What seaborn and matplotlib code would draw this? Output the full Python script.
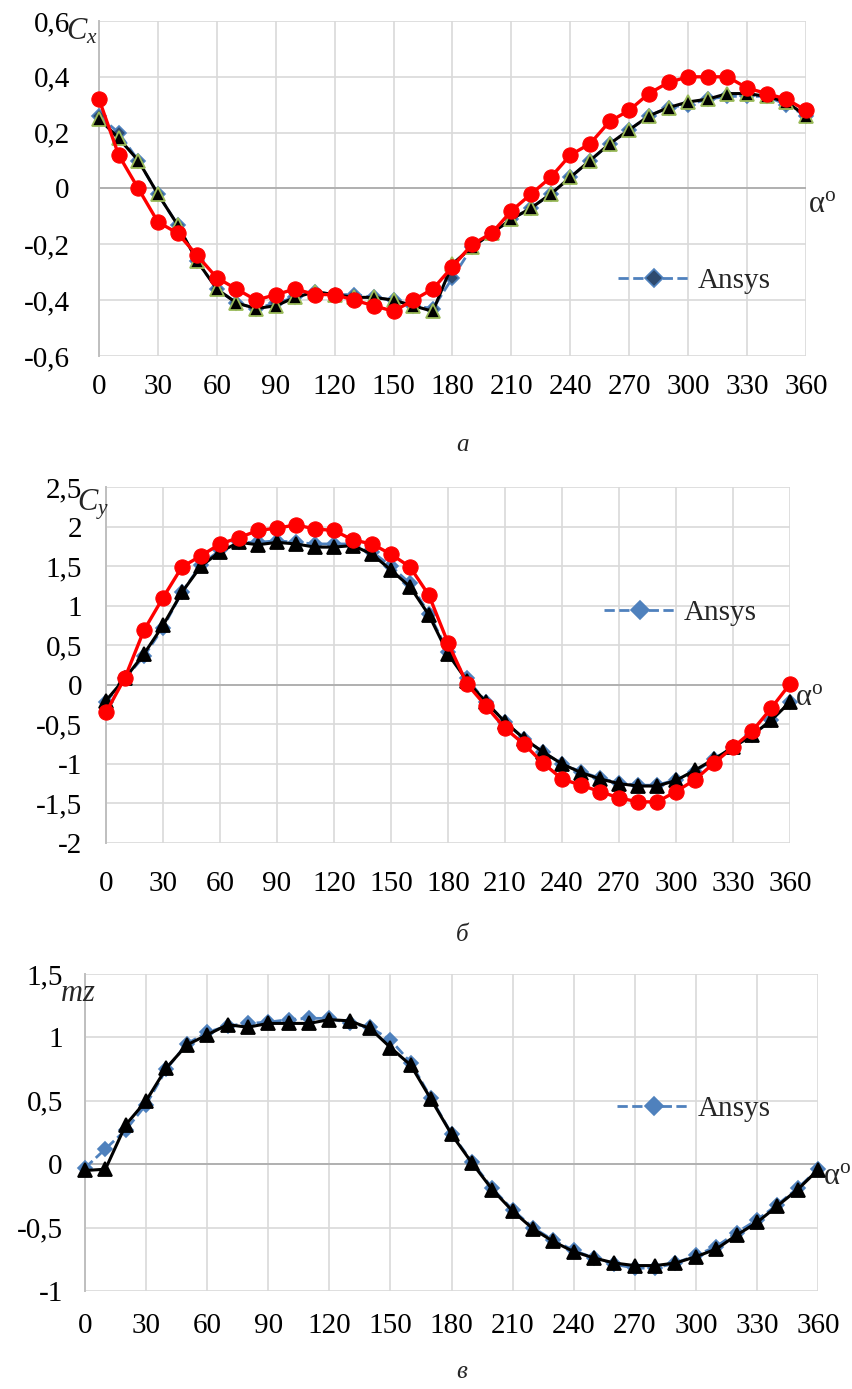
import numpy as np
import matplotlib
matplotlib.use('Agg')
import matplotlib.pyplot as plt
import seaborn as sns
from matplotlib.ticker import FuncFormatter, MultipleLocator
from matplotlib.lines import Line2D

sns.set_style('white')
plt.rcParams['font.family'] = ['Liberation Serif', 'DejaVu Serif']
plt.rcParams['mathtext.fontset'] = 'custom'
plt.rcParams['mathtext.rm'] = 'Liberation Serif'
plt.rcParams['mathtext.it'] = 'Liberation Serif:italic'

# angle of attack, degrees
alpha = [0, 10, 20, 30, 40, 50, 60, 70, 80, 90, 100, 110, 120, 130, 140, 150, 160, 170, 180,
         190, 200, 210, 220, 230, 240, 250, 260, 270, 280, 290, 300, 310, 320, 330, 340, 350, 360]

# Cx
cx_ansys = [0.26, 0.20, 0.10, -0.02, -0.13, -0.26, -0.36, -0.41, -0.43, -0.41, -0.39, -0.37, -0.38,
            -0.38, -0.39, -0.40, -0.42, -0.43, -0.32, -0.21, -0.16, -0.11, -0.07, -0.02, 0.04, 0.10,
            0.16, 0.21, 0.26, 0.29, 0.30, 0.32, 0.33, 0.33, 0.33, 0.30, 0.26]
cx_black = [0.25, 0.18, 0.10, -0.02, -0.13, -0.26, -0.36, -0.41, -0.43, -0.42, -0.39, -0.37, -0.38,
            -0.39, -0.39, -0.40, -0.42, -0.44, -0.27, -0.21, -0.16, -0.11, -0.07, -0.02, 0.04, 0.10,
            0.16, 0.21, 0.26, 0.29, 0.31, 0.32, 0.34, 0.34, 0.33, 0.31, 0.26]
cx_red = [0.32, 0.12, 0.00, -0.12, -0.16, -0.24, -0.32, -0.36, -0.40, -0.38, -0.36, -0.38, -0.38,
          -0.40, -0.42, -0.44, -0.40, -0.36, -0.28, -0.20, -0.16, -0.08, -0.02, 0.04, 0.12, 0.16,
          0.24, 0.28, 0.34, 0.38, 0.40, 0.40, 0.40, 0.36, 0.34, 0.32, 0.28]

# Cy
cy_ansys = [-0.22, 0.08, 0.36, 0.72, 1.17, 1.52, 1.70, 1.80, 1.80, 1.82, 1.80, 1.78, 1.78, 1.78,
            1.68, 1.50, 1.28, 0.90, 0.42, 0.08, -0.22, -0.47, -0.68, -0.85, -1.00, -1.10, -1.18,
            -1.24, -1.27, -1.27, -1.20, -1.10, -0.94, -0.79, -0.64, -0.45, -0.22]
cy_black = [-0.20, 0.08, 0.39, 0.75, 1.17, 1.50, 1.68, 1.80, 1.77, 1.80, 1.78, 1.74, 1.74, 1.76,
            1.65, 1.45, 1.24, 0.88, 0.39, 0.05, -0.22, -0.47, -0.68, -0.85, -1.00, -1.11, -1.19,
            -1.25, -1.28, -1.28, -1.21, -1.08, -0.94, -0.79, -0.64, -0.45, -0.22]
cy_red = [-0.35, 0.09, 0.69, 1.10, 1.49, 1.63, 1.78, 1.86, 1.95, 1.98, 2.02, 1.97, 1.95, 1.83,
          1.78, 1.65, 1.49, 1.13, 0.53, 0.01, -0.27, -0.55, -0.75, -0.99, -1.19, -1.27, -1.35,
          -1.43, -1.48, -1.48, -1.35, -1.20, -0.99, -0.79, -0.59, -0.30, 0.01]

# mz
mz_ansys = [-0.03, 0.12, 0.27, 0.47, 0.75, 0.95, 1.04, 1.09, 1.11, 1.12, 1.14, 1.15, 1.15, 1.11,
            1.08, 0.98, 0.80, 0.52, 0.24, 0.02, -0.19, -0.36, -0.50, -0.60, -0.68, -0.74, -0.79,
            -0.82, -0.82, -0.78, -0.72, -0.65, -0.54, -0.44, -0.32, -0.19, -0.04]
mz_black = [-0.05, -0.04, 0.31, 0.50, 0.76, 0.94, 1.02, 1.10, 1.08, 1.11, 1.11, 1.11, 1.14, 1.13,
            1.07, 0.92, 0.78, 0.51, 0.235, 0.01, -0.20, -0.37, -0.51, -0.61, -0.69, -0.74, -0.78,
            -0.80, -0.80, -0.78, -0.73, -0.67, -0.56, -0.46, -0.33, -0.20, -0.045]

BLUE = '#4f81bd'
GRID = '#d9d9d9'
FS = 21


def comma(v, pos):
    v = round(v, 2) + 0.0
    return f"{v:g}".replace('.', ',')


fig = plt.figure(figsize=(8.52, 13.89), dpi=100)

panels = [
    dict(rect=[0.1162, 0.7437, 0.8298, 0.2412], ylim=(-0.6, 0.6), step=0.2,
         ylab=r'$C_x$', ylab_xy=(-0.046, 1.012), a_xy=(1.003, 0.451),
         leg_xy=(0.734, 0.224), ypad=21, xpad=13, sub='а', sub_y=445,
         data=[cx_ansys, cx_black, cx_red], dark_leg=True, tri_edge='#9bbb59'),
    dict(rect=[0.1244, 0.3931, 0.8028, 0.2563], ylim=(-2, 2.5), step=0.5,
         ylab=r'$C_y$', ylab_xy=(-0.042, 1.0), a_xy=(1.007, 0.41),
         leg_xy=(0.728, 0.646), ypad=17, xpad=20, sub='б', sub_y=935,
         data=[cy_ansys, cy_black, cy_red], dark_leg=False, tri_edge='black'),
    dict(rect=[0.0998, 0.0706, 0.8603, 0.2282], ylim=(-1, 1.5), step=0.5,
         ylab=r'$mz$', ylab_xy=(-0.034, 0.985), a_xy=(1.007, 0.36),
         leg_xy=(0.726, 0.574), ypad=16, xpad=16, sub='в', sub_y=1372,
         data=[mz_ansys, mz_black, None], dark_leg=False, tri_edge='black'),
]

for p in panels:
    ax = fig.add_axes(p['rect'])
    ansys, black, red = p['data']
    mfc = '#2e4a6e' if p['dark_leg'] else BLUE

    sns.lineplot(x=alpha, y=ansys, ax=ax, color=BLUE, linestyle='--', linewidth=2.0,
                 marker='D', markersize=7, markerfacecolor=mfc, markeredgecolor=BLUE,
                 markeredgewidth=1.2, clip_on=False, zorder=3, sort=False)
    sns.lineplot(x=alpha, y=black, ax=ax, color='black', linewidth=2.2,
                 marker='^', markersize=10, markerfacecolor='black',
                 markeredgecolor=p['tri_edge'], markeredgewidth=1.3,
                 clip_on=False, zorder=4, sort=False)
    if red is not None:
        sns.lineplot(x=alpha, y=red, ax=ax, color='#ff0000', linewidth=2.4,
                     marker='o', markersize=11, markerfacecolor='#ff0000',
                     markeredgecolor='#ff0000', clip_on=False, zorder=5, sort=False)

    ax.set_xlim(0, 360)
    ax.set_ylim(*p['ylim'])
    ax.xaxis.set_major_locator(MultipleLocator(30))
    ax.yaxis.set_major_locator(MultipleLocator(p['step']))
    ax.yaxis.set_major_formatter(FuncFormatter(comma))
    ax.grid(True, color=GRID, linewidth=1.2)
    ax.set_axisbelow(True)
    ax.axhline(0, color='#b0b0b0', linewidth=1.4, zorder=1)
    for s in ['top', 'right', 'bottom']:
        ax.spines[s].set_visible(False)
    ax.spines['left'].set_color('#bfbfbf')
    ax.spines['left'].set_linewidth(1.4)
    ax.tick_params(axis='both', length=0, labelsize=FS, colors='black')
    ax.tick_params(axis='y', pad=p['ypad'])
    ax.tick_params(axis='x', pad=p['xpad'])
    ax.set_xlabel('')
    ax.set_ylabel('')

    ax.text(*p['ylab_xy'], p['ylab'], transform=ax.transAxes, fontsize=22,
            ha='left', va='top')
    ax.text(*p['a_xy'], r'$\mathrm{\alpha}^{\mathrm{o}}$', transform=ax.transAxes,
            fontsize=22, ha='left', va='center')

    h = Line2D([], [], color=BLUE, linestyle='--', linewidth=2.0, marker='D', markersize=9,
               markerfacecolor=mfc, markeredgecolor=BLUE, markeredgewidth=1.2)
    ax.legend(handles=[h], labels=['Ansys'], loc='center left', bbox_to_anchor=p['leg_xy'],
              frameon=False, fontsize=FS, handlelength=2.5, handletextpad=0.25,
              borderpad=0, borderaxespad=0)

    fig.text(462 / 852, 1 - p['sub_y'] / 1389, p['sub'], fontsize=18, style='italic',
             ha='center', va='center')

fig.savefig('out.png', dpi=100)
